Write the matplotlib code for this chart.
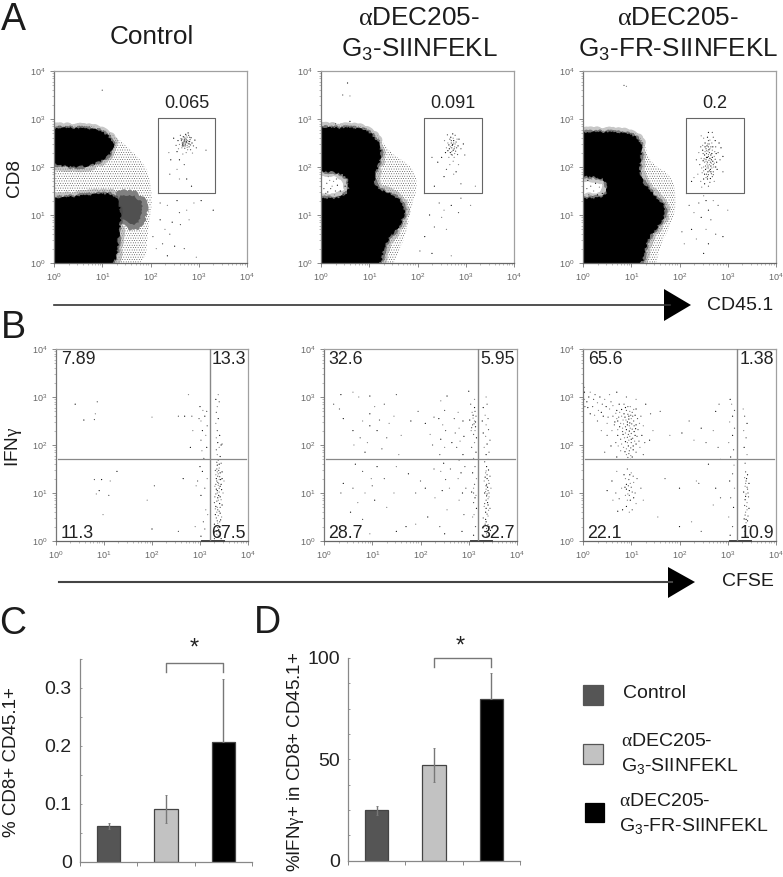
import matplotlib
matplotlib.use('Agg')
import matplotlib.pyplot as plt
from matplotlib.patches import Polygon, Rectangle
from matplotlib.ticker import LogLocator, NullFormatter, MultipleLocator

W, H = 783, 877
plt.rcParams['font.family'] = ['Liberation Sans', 'DejaVu Sans']
plt.rcParams['mathtext.fontset'] = 'custom'
plt.rcParams['mathtext.rm'] = 'Liberation Sans'
plt.rcParams['mathtext.it'] = 'Liberation Serif'
plt.rcParams['mathtext.default'] = 'regular'
plt.rcParams['hatch.linewidth'] = 0.3

# ---------- bar data ----------
groups = ['Control', 'aDEC205-G3-SIINFEKL', 'aDEC205-G3-FR-SIINFEKL']
bar_colors = ['#555555', '#c2c2c2', '#000000']
pct_cd8 = [0.062, 0.091, 0.207]
pct_cd8_low = [0.006, 0.024, 0.0]
pct_cd8_up = [0.004, 0.024, 0.109]
pct_ifn = [24.8, 47.4, 80.0]
pct_ifn_low = [2.5, 8.6, 0.0]
pct_ifn_up = [2.4, 8.4, 12.4]

# ---------- flow gates (log10 decades) ----------
gate_values = ['0.065', '0.091', '0.2']
gate_x = [(2.155, 3.336), (2.135, 3.33), (2.135, 3.34)]
gate_y = (1.458, 3.02)
quad_x = [3.2, 3.19, 3.19]
quad_y = 1.71
quad_text = [('7.89', '13.3', '11.3', '67.5'),
             ('32.6', '5.95', '28.7', '32.7'),
             ('65.6', '1.38', '22.1', '10.9')]

# ---------- dense population outlines (log10 decades) ----------
A1_black_top = [(-.2,2.8),(.46,2.8),(.88,2.77),(1.1,2.66),(1.24,2.5),(1.18,2.29),(.88,2.08),(.53,2.0),(-.2,2.08)]
A1_black_low = [(-.2,1.32),(.46,1.375),(.95,1.43),(1.28,1.42),(1.38,1.05),(1.34,.62),(1.24,-.2),(-.2,-.2)]
A1_dark = [(1.24,1.42),(1.6,1.5),(1.88,1.3),(1.9,1.0),(1.7,.68),(1.38,.85),(1.28,1.1)]
A1_halo = [(-.2,2.86),(.5,2.88),(.95,2.84),(1.3,2.62),(1.7,2.25),(1.95,1.95),(2.05,1.3),(1.95,.75),(1.88,-.2),(-.2,-.2)]
A2_black = [(-.2,2.82),(.4,2.8),(.8,2.8),(1.07,2.67),(1.25,2.39),(1.18,2.01),(1.08,1.81),(1.14,1.53),(1.5,1.42),(1.76,1.15),(1.62,.76),(1.32,.45),(1.2,-.2),(-.2,-.2),(-.2,1.34),(.48,1.34),(.62,1.6),(.5,1.88),(-.2,1.95)]
A2_halo = [(-.2,2.9),(.73,2.9),(1.15,2.72),(1.42,2.3),(1.91,2.0),(2.01,1.6),(1.84,1.05),(1.77,.62),(1.56,.14),(1.45,-.2),(1.1,-.2),(1.1,2.0),(-.2,2.0)]
A3_black = [(-.2,2.71),(.55,2.72),(1.04,2.67),(1.23,2.46),(1.16,2.08),(1.18,1.74),(1.45,1.42),(1.75,1.11),(1.54,.76),(1.31,.49),(1.19,-.2),(-.2,-.2),(-.2,1.34),(.4,1.34),(.54,1.53),(.43,1.81),(-.2,1.81)]
A3_halo = [(-.2,2.76),(1.04,2.76),(1.25,2.57),(1.39,2.08),(1.87,1.81),(1.94,1.18),(1.8,.76),(1.59,.35),(1.49,-.2),(1.1,-.2),(1.1,2.0),(-.2,2.0)]

# ---------- individual events (log10 decades) ----------
A1_dots = [(2.74,2.53),(2.70,2.58),(2.78,2.49),(2.66,2.5),(2.82,2.57),(2.76,2.62),(2.69,2.44),(2.8,2.42),(2.63,2.59),(2.86,2.5),
 (2.72,2.47),(2.75,2.56),(2.68,2.63),(2.79,2.66),(2.6,2.47),(2.84,2.61),(2.71,2.39),(2.77,2.36),(2.57,2.55),(2.89,2.44),
 (2.65,2.4),(2.73,2.68),(2.83,2.36),(2.58,2.38),(2.92,2.56),(2.62,2.66),(2.74,2.3),(2.55,2.32),(2.95,2.4),(2.67,2.27),
 (2.48,2.6),(2.53,2.45),(2.87,2.29),(2.78,2.71),(2.7,2.53),(2.76,2.45),(2.81,2.53),(2.64,2.55),(2.72,2.6),(2.67,2.47),
 (2.73,2.5),(2.77,2.55),(2.71,2.56),(2.75,2.51),(2.79,2.53),(2.69,2.5),(2.74,2.58),(2.68,2.54),(2.8,2.48),(2.72,2.44),(2.76,2.41),(2.66,2.44),(2.83,2.46),(2.7,2.62),(2.65,2.58),(2.81,2.62),(2.74,2.65),
 (2.6,2.15),(2.7,2.05),(2.55,1.95),(2.75,1.75),(2.4,1.85),(2.6,1.75),(2.85,1.6),(3.15,2.35),(2.38,2.3),(2.42,2.15),
 (2.2,1.25),(2.35,1.2),(2.55,1.3),(2.6,1.05),(2.75,1.1),(2.45,.85),(2.62,.8),(2.3,.7),(2.2,.9),(2.4,.6),(2.8,.9),(2.5,.35),(2.25,.4),(2.9,1.25),(3.05,1.3),(2.05,.55),(2.12,.3),(2.35,.15),(2.7,.3),(2.95,.12),(3.3,1.1),(1.0,3.6)]
A2_dots = [(2.73,2.47),(2.7,2.55),(2.77,2.42),(2.66,2.38),(2.8,2.52),(2.74,2.6),(2.68,2.3),(2.79,2.33),(2.63,2.5),(2.84,2.44),
 (2.71,2.4),(2.75,2.5),(2.69,2.62),(2.78,2.66),(2.6,2.4),(2.86,2.58),(2.72,2.25),(2.76,2.2),(2.58,2.3),(2.9,2.38),
 (2.65,2.2),(2.73,2.69),(2.83,2.26),(2.56,2.55),(2.95,2.48),(2.62,2.67),(2.74,2.12),(2.5,2.2),(2.98,2.25),(2.67,2.05),
 (2.72,2.45),(2.76,2.38),(2.68,2.42),(2.74,2.35),(2.7,2.5),(2.78,2.48),(2.65,2.46),(2.81,2.4),(2.71,2.32),(2.75,2.55),(2.67,2.58),(2.82,2.58),(2.63,2.34),(2.7,2.26),(2.77,2.28),
 (2.42,2.1),(2.3,2.2),(2.85,2.05),(2.8,1.9),(2.6,1.95),(2.75,1.85),(2.55,1.8),(2.9,1.65),(3.2,1.6),(2.35,1.6),
 (2.45,1.25),(2.55,1.1),(2.7,1.2),(2.85,1.05),(2.5,.95),(2.25,1.0),(2.35,.75),(2.6,.7),(2.15,.55),(2.9,1.35),(3.1,1.2),(2.3,.2),(2.05,.25),(2.7,.15),
 (.55,3.75),(.45,3.5),(.6,3.48),(.6,2.95),(.3,2.9),
 (.08,1.4),(.14,1.48),(.2,1.55),(.28,1.42),(.34,1.62),(.12,1.66),(.2,1.38),(.4,1.5),(.06,1.55),(.26,1.7),(.46,1.42),(.32,1.75),(.15,1.8),(.5,1.6),(.1,1.45),(.23,1.6),(.38,1.38),(.3,1.5),(.18,1.72)]
A3_dots = [(2.58,2.2),(2.62,2.3),(2.55,2.12),(2.66,2.15),(2.6,2.42),(2.68,2.35),(2.52,2.25),(2.7,2.05),(2.5,2.0),(2.64,1.95),
 (2.56,1.85),(2.72,2.22),(2.48,2.35),(2.6,2.55),(2.67,2.5),(2.53,2.5),(2.75,2.42),(2.45,2.18),(2.58,1.75),(2.68,1.8),
 (2.62,2.05),(2.54,1.95),(2.7,1.9),(2.47,1.88),(2.77,2.1),(2.42,2.05),(2.59,2.33),(2.65,2.25),(2.55,2.38),(2.73,2.32),
 (2.5,1.75),(2.63,1.68),(2.44,1.7),(2.78,1.95),(2.8,2.3),(2.4,2.3),(2.58,2.62),(2.7,2.62),(2.5,2.6),(2.82,2.5),
 (2.61,2.14),(2.57,2.06),(2.65,2.02),(2.6,2.22),(2.52,2.1),(2.69,2.12),(2.56,2.28),(2.63,2.38),(2.59,1.9),(2.66,1.86),
 (2.48,2.45),(2.74,2.55),(2.84,2.15),(2.38,1.85),(2.52,1.65),(2.6,1.6),(2.72,1.7),(2.86,2.4),(2.35,2.15),(2.46,1.58),
 (2.6,2.72),(2.68,2.72),(2.45,2.65),(2.9,2.22),(2.9,1.9),(2.3,1.78),(2.25,1.7),(2.55,2.16),(2.62,2.48),(2.57,2.44),
 (2.64,2.1),(2.6,1.98),(2.67,2.28),(2.54,2.02),(2.71,2.0),(2.49,2.13),(2.58,1.8),(2.53,2.32),(2.76,2.28),(2.44,2.42),
 (2.6,2.26),(2.63,2.18),(2.58,2.1),(2.66,2.08),(2.56,2.2),(2.62,1.92),(2.57,1.98),(2.65,1.9),(2.6,1.84),(2.55,1.78),(2.64,1.76),(2.59,2.02),(2.67,1.98),(2.61,2.36),(2.65,2.42),(2.56,2.34),(2.69,2.42),(2.59,2.48),(2.63,2.56),(2.53,2.42),(2.51,2.17),(2.5,1.92),(2.68,2.2),(2.74,2.16),(2.72,2.08),(2.75,2.0),(2.49,2.28),(2.46,1.98),(2.52,1.85),(2.7,1.84),
 (2.5,1.4),(2.55,1.3),(2.4,1.25),(2.7,1.3),(2.6,1.1),(2.8,1.2),(2.3,1.05),(2.45,.95),(2.65,.9),(2.55,.7),(2.25,.7),(2.75,.6),(2.35,.5),(2.6,.4),(2.2,1.2),(3.0,1.1),(2.9,.55),(2.05,.65),(2.1,.4),(2.5,.2),
 (.85,3.7),(.9,3.68),(.1,1.72),(.16,1.6),(.22,1.5),(.3,1.42),(.12,1.42),(.18,1.75),(.26,1.66),(.08,1.55),(.34,1.58),(.4,1.45),(.2,1.38)]

B1_dots = [(3.38,.1),(3.34,.2),(3.42,.3),(3.3,.35),(3.36,.42),(3.45,.5),(3.32,.55),(3.4,.62),(3.36,.7),(3.46,.75),(3.3,.8),(3.38,.85),(3.42,.92),(3.33,.98),(3.48,1.0),
 (3.36,1.05),(3.4,1.1),(3.31,1.14),(3.44,1.18),(3.37,1.22),(3.5,1.25),(3.34,1.3),(3.41,1.34),(3.38,1.4),(3.46,1.44),(3.32,1.47),(3.4,1.52),(3.36,1.58),(3.44,1.62),(3.38,1.68),
 (3.34,1.08),(3.42,.7),(3.35,.6),(3.39,.95),(3.37,.28),(3.4,.18),(3.44,.05),(3.3,.05),(3.36,1.0),(3.43,1.28),(3.35,1.5),(3.39,1.2),(3.33,.72),(3.41,.4),
 (3.35,.14),(3.39,.24),(3.33,.3),(3.37,.37),(3.43,.44),(3.34,.48),(3.38,.53),(3.42,.58),(3.37,.65),(3.32,.67),(3.41,.78),(3.35,.83),(3.44,.86),(3.37,.9),(3.31,.92),(3.4,1.02),(3.45,1.07),(3.33,1.18),(3.38,1.16),(3.42,1.14),(3.35,1.25),(3.4,1.28),(3.46,1.3),(3.37,1.35),(3.33,1.38),(3.42,1.42),(3.39,1.47),(3.36,1.44),(3.4,1.6),(3.35,1.64),
 (3.36,1.8),(3.42,1.76),(3.34,1.9),(3.4,1.95),(3.37,2.05),(3.46,2.02),(3.34,2.15),(3.41,2.2),(3.36,2.3),(3.33,2.45),(3.38,2.55),(3.34,2.68),(3.36,2.8),(3.33,2.95),(3.4,2.9),(3.38,3.05),(3.44,2.0),
 (3.07,.4),(3.12,.65),(3.02,.95),(3.1,1.1),(3.15,1.3),(3.05,1.45),(2.95,1.25),(2.92,1.15),(3.02,.1),(3.1,.25),(3.16,.55),(3.0,1.55),(3.08,1.72),(3.04,1.88),(3.14,1.95),(3.02,2.1),(3.12,2.2),(3.05,2.3),(3.15,2.4),(3.02,2.5),(3.1,2.6),(2.98,2.55),(3.06,2.72),(3.0,2.8),(3.14,2.7),
 (2.76,3.05),(2.68,2.6),(2.83,2.6),(2.85,2.3),(2.8,1.95),(2.55,2.6),(2.0,2.58),(.4,2.85),(.86,2.9),(.82,2.65),(.58,2.52),(.8,2.53),(.84,.98),(.9,1.05),(1.1,.95),(1.13,1.25),(.95,1.28),(.8,1.28),(.98,.55),(1.27,1.45),(2.05,1.15),(1.9,.85),(2.0,.25),(2.55,.2),(2.9,.3),(2.65,1.3)]
B2_dots = [(3.38,.1),(3.33,.2),(3.43,.3),(3.36,.4),(3.3,.48),(3.4,.52),(3.35,.6),(3.44,.68),(3.32,.72),(3.39,.8),(3.36,.85),(3.42,.92),(3.33,1.0),(3.4,1.05),(3.46,1.1),(3.36,1.15),(3.42,1.2),(3.32,1.25),(3.38,1.3),(3.44,1.35),(3.35,1.42),(3.41,1.48),(3.38,.98),(3.36,1.08),(3.4,.75),(3.34,.35),(3.37,.15),(3.45,.22),
 (3.37,.26),(3.4,.34),(3.35,.45),(3.38,.56),(3.41,.64),(3.36,.68),(3.33,.78),(3.4,.88),(3.37,.94),(3.42,1.0),(3.35,1.03),(3.39,1.12),(3.37,1.18),(3.41,1.26),(3.34,1.33),(3.38,1.38),(3.36,1.46),
 (3.37,1.55),(3.33,1.65),(3.4,1.7),(3.36,1.8),(3.42,1.85),(3.32,1.95),(3.38,2.02),(3.44,2.1),(3.35,2.18),(3.3,2.25),(3.41,2.32),(3.36,2.42),(3.28,2.5),(3.4,2.55),(3.34,2.62),(3.3,2.78),(3.38,2.85),(3.36,3.0),
 (3.1,.12),(3.14,.3),(3.08,.5),(3.16,.68),(3.1,.8),(3.15,.95),(3.06,1.02),(3.12,1.18),(3.16,1.3),(3.08,1.42),(3.13,1.55),(3.1,1.72),(3.15,1.85),(3.06,1.95),(3.12,2.05),(3.16,2.15),(3.1,2.22),(3.05,2.3),(3.14,2.38),(3.08,2.42),(3.12,2.5),(3.02,2.52),(3.15,2.6),(3.07,2.68),(3.12,2.78),(3.04,2.85),(3.12,2.95),(3.0,3.12),
 (3.11,2.44),(3.09,2.56),(3.14,2.48),(3.06,2.36),(3.13,2.3),(3.09,2.62),(3.13,2.7),(3.1,1.1),(3.13,.9),(3.1,1.0),(3.11,.55),
 (2.86,.2),(2.9,.55),(2.8,.85),(2.87,1.0),(2.94,1.1),(2.78,1.3),(2.84,1.42),(2.92,1.55),(2.8,1.68),(2.88,1.8),(2.75,1.95),(2.82,2.08),(2.9,2.18),(2.72,2.25),(2.8,2.35),(2.88,2.5),(2.7,2.55),(2.78,2.68),(2.65,2.05),(2.62,1.5),(2.6,1.1),
 (2.5,.15),(2.4,.3),(2.55,.65),(2.45,1.05),(2.52,1.28),(2.42,1.45),(2.48,1.62),(2.4,1.8),(2.5,1.95),(2.42,2.12),(2.52,2.3),(2.46,2.42),(2.38,2.55),(2.5,2.72),(2.42,2.92),(2.55,3.02),(2.25,2.0),(2.2,2.22),(2.1,2.45),(2.28,2.58),(2.3,.9),(2.1,1.1),(2.0,1.25),(1.9,.35),(2.15,.5),(2.28,1.5),
 (.6,3.1),(.35,3.05),(.2,2.85),(.72,3.0),(.95,3.02),(1.5,3.05),(1.05,2.8),(.95,2.65),(1.25,2.85),(1.45,2.6),(.4,2.55),(.32,2.75),(.8,2.5),(.95,2.4),(1.15,2.52),(1.35,2.45),(.6,2.3),(.75,2.15),(.9,2.05),(1.1,2.3),(1.3,2.15),(1.6,2.2),(1.8,2.5),(1.95,2.7),(.62,2.0),(.85,1.85),(1.2,1.92),(1.55,1.8),(.65,1.6),(.8,1.45),(.98,1.3),(1.1,1.55),(1.25,1.3),(1.5,1.55),(.4,1.2),(.6,1.1),(.85,1.0),(1.05,.85),(1.0,1.15),(.7,.8),(.55,.6),(.8,.45),(1.45,1.0),(1.75,1.4),(1.9,1.0),(1.3,.7),(1.7,.3),(.35,1.0),(.95,.15),(1.5,.2)]
B3_dots = [(.95,2.6),(.9,2.72),(1.0,2.55),(.85,2.65),(1.05,2.5),(.8,2.6),(.92,2.48),(1.02,2.68),(.78,2.45),(1.1,2.42),(.88,2.38),(.98,2.35),(1.06,2.28),(.94,2.22),(.86,2.15),(1.0,2.12),(1.12,2.18),(.92,2.05),(1.04,1.98),(.96,1.88),(.9,1.8),(1.02,1.75),(1.1,1.85),(.84,1.95),(.98,1.7),
 (.93,2.64),(.97,2.7),(.87,2.58),(.99,2.62),(.83,2.52),(.95,2.54),(1.03,2.6),(.89,2.52),(.97,2.46),(1.01,2.44),(.84,2.44),(.92,2.42),(1.06,2.4),(.96,2.4),(.9,2.32),(1.02,2.33),(.82,2.35),(.96,2.29),(1.0,2.24),(.88,2.25),(1.08,2.2),(.92,2.16),(.97,2.18),(.83,2.22),(1.03,2.14),(.95,2.1),(.88,2.07),(1.0,2.05),(1.07,2.08),(.94,1.98),(.99,1.94),(.9,1.92),(1.04,1.9),(.95,1.82),(.99,1.78),(.87,1.86),(.93,1.74),
 (.76,2.68),(.8,2.74),(.74,2.58),(.68,2.66),(.88,2.78),(.93,2.8),(1.05,2.74),(1.08,2.62),(1.13,2.55),(.7,2.55),(.76,2.38),(.82,2.28),(.72,2.32),(.66,2.48),(1.14,2.32),(1.17,2.45),(1.09,2.34),(.78,2.12),(.8,2.02),(1.1,2.02),(1.16,2.08),(.73,1.98),
 (.7,2.72),(.62,2.6),(.55,2.75),(.72,2.5),(.65,2.42),(.6,2.3),(.75,2.85),(.85,2.85),(.98,2.8),(1.1,2.75),(1.2,2.6),(1.25,2.4),(1.22,2.2),(1.28,2.05),(1.18,1.95),(.72,2.2),(.68,2.05),(.78,1.88),(.7,1.75),(1.25,1.8),
 (.45,2.95),(.35,3.0),(.25,3.05),(.15,3.1),(.08,2.9),(.2,2.8),(.32,2.72),(.42,2.6),(.3,2.5),(.5,2.45),(.15,2.65),(.4,2.85),(.55,3.05),(.7,3.1),(.9,3.0),(1.1,2.95),(1.3,2.85),(1.4,2.65),(1.45,2.3),(1.38,2.1),(.5,2.2),(.38,2.3),(.58,1.98),(.45,1.85),(.03,2.95),(.03,3.1),(.04,2.8),(.03,3.2),
 (.12,3.0),(.22,2.95),(.3,2.88),(.48,2.8),(.58,2.9),(.62,2.82),(.38,2.68),(.52,2.58),(.24,2.62),(.1,2.78),
 (.92,1.5),(1.0,1.42),(.85,1.38),(.95,1.28),(1.05,1.22),(.9,1.18),(1.0,1.12),(.8,1.1),(.96,1.05),(1.08,1.0),(.88,.95),(.98,.85),(.75,.88),(1.1,.78),(.9,.72),(.68,1.0),(.62,.85),(.82,.65),(1.02,.65),(.96,.6),(.72,.62),(1.12,1.3),(.7,1.45),(.6,1.25),(1.2,1.1),(1.25,.85),(.5,1.05),
 (.94,1.15),(.98,1.2),(.9,1.08),(1.02,1.02),(.93,.98),(.87,1.12),(1.04,1.35),(.88,1.3),(.97,1.38),(.96,.95),(.92,.85),(1.05,.9),
 (1.6,2.7),(1.8,2.2),(2.05,2.25),(2.2,2.5),(2.3,2.1),(2.45,2.35),(2.55,2.05),(2.7,2.3),(2.75,2.7),(2.8,1.95),(2.85,1.7),(2.6,1.6),(2.4,1.2),(2.35,1.25),(2.75,1.1),(2.85,.9),(2.7,.75),(2.0,1.1),(1.7,1.3),(1.55,.5),(2.0,.3),(2.45,.2),(2.25,.4),
 (3.05,.12),(3.1,.3),(3.02,.5),(3.12,.7),(3.06,.9),(3.14,1.1),(3.04,1.25),(3.1,1.4),(3.13,1.58),(3.06,1.75),(3.12,1.9),(3.02,2.05),(3.1,2.2),(3.14,2.35),(3.04,2.48),(3.1,2.6),(3.14,2.72),(3.08,2.85),(3.05,2.95),(2.82,2.85),
 (3.4,.1),(3.36,.2),(3.44,.3),(3.38,.38),(3.34,.46),(3.42,.52),(3.37,.6),(3.44,.68),(3.35,.74),(3.4,.8),(3.36,.86),(3.43,.92),(3.38,.98),(3.33,1.02),(3.41,1.08),(3.36,1.14),(3.44,1.2),(3.38,1.25),(3.35,1.32),(3.41,1.38),(3.37,1.44),(3.4,.65),(3.38,.45),(3.42,1.0),
 (3.37,.25),(3.41,.42),(3.36,.54),(3.39,.72),(3.37,.93),(3.4,1.12),(3.37,1.2),(3.39,1.3),
 (3.36,1.62),(3.4,1.8),(3.34,1.95),(3.38,2.15),(3.33,2.3),(3.4,2.45),(3.35,2.6),(3.32,2.75)]

def px_axes(fig, l, t, r, b):
    return fig.add_axes([l / W, 1 - b / H, (r - l) / W, (b - t) / H])

def flow_axes(fig, box):
    ax = px_axes(fig, *box)
    ax.set_xscale('log'); ax.set_yscale('log')
    ax.set_xlim(1, 1e4); ax.set_ylim(1, 1e4)
    for axis in (ax.xaxis, ax.yaxis):
        axis.set_major_locator(LogLocator(base=10, numticks=6))
        axis.set_minor_locator(LogLocator(base=10, subs=range(2, 10), numticks=6))
        axis.set_minor_formatter(NullFormatter())
    ax.tick_params(which='major', length=3, width=.6, color='#777777', labelsize=6.5, labelcolor='#666666', pad=3)
    ax.tick_params(which='minor', length=1.5, width=.4, color='#888888')
    for s in ax.spines.values():
        s.set_color('#a0a0a0'); s.set_linewidth(.9)
    ax.spines['left'].set_color('#777777'); ax.spines['bottom'].set_color('#666666')
    return ax

def logged(points):
    return [(10 ** x, 10 ** y) for x, y in points]

def rounded(points, passes=2):
    pts = list(points)
    for _ in range(passes):
        out = []
        for k, (x0, y0) in enumerate(pts):
            x1, y1 = pts[(k + 1) % len(pts)]
            out += [(.75 * x0 + .25 * x1, .75 * y0 + .25 * y1), (.25 * x0 + .75 * x1, .25 * y0 + .75 * y1)]
        pts = out
    return pts

def dots(ax, points, s=.8):
    p = logged(points)
    shades = ['#111111', '#555555', '#888888']
    ax.scatter([a for a, _ in p], [b for _, b in p], s=s,
               c=[shades[k % 3] for k in range(len(p))], linewidths=0, zorder=3)

def stipple(ax, outline):
    ax.add_patch(Polygon(logged(rounded(outline)), closed=True, facecolor='none', edgecolor='#444444',
                         hatch='.......', linewidth=0, zorder=1))

def solid(ax, outline):
    pts = logged(rounded(outline))
    glow = Polygon(pts, closed=True, facecolor='none', edgecolor='#9a9a9a', linewidth=7, alpha=.55, zorder=1.5, joinstyle='round')
    glow.set_sketch_params(scale=1.5, length=6, randomness=8)
    ax.add_patch(glow)
    soft = Polygon(pts, closed=True, facecolor='none', edgecolor='#444444', linewidth=3, alpha=.6, zorder=1.8, joinstyle='round')
    soft.set_sketch_params(scale=1.2, length=5, randomness=8)
    ax.add_patch(soft)
    core = Polygon(pts, closed=True, facecolor='black', edgecolor='black', linewidth=.8, zorder=2, joinstyle='round')
    core.set_sketch_params(scale=1.0, length=4, randomness=8)
    ax.add_patch(core)

fig = plt.figure(figsize=(W / 100, H / 100), dpi=100)

# ---------- panel A ----------
a_boxes = [(54, 71, 247, 263), (321, 71, 514, 263), (583, 71, 776, 263)]
a_solid = [[A1_black_top, A1_black_low], [A2_black], [A3_black]]
a_halo = [A1_halo, A2_halo, A3_halo]
a_dots = [A1_dots, A2_dots, A3_dots]
for i, box in enumerate(a_boxes):
    ax = flow_axes(fig, box)
    stipple(ax, a_halo[i])
    if i == 0:
        dark = Polygon(logged(rounded(A1_dark)), closed=True, facecolor='#505050', edgecolor='#808080',
                       linewidth=3, zorder=1.6, joinstyle='round')
        dark.set_sketch_params(scale=1.5, length=5, randomness=8)
        ax.add_patch(dark)
    for o in a_solid[i]:
        solid(ax, o)
    ax.axvspan(1, 10 ** .03, color='white', lw=0, zorder=2.5)
    dots(ax, a_dots[i])
    (x0, x1), (y0, y1) = gate_x[i], gate_y
    ax.plot([10**x0, 10**x1, 10**x1, 10**x0, 10**x0], [10**y0, 10**y0, 10**y1, 10**y1, 10**y0], color='#666666', lw=.8, zorder=4)
    ax.text(10 ** ((x0 + x1) / 2), 10 ** (y1 + .13), gate_values[i], ha='center', va='bottom', fontsize=13, color='#222222')

# ---------- panel B ----------
b_boxes = [(56, 349, 248, 541), (324, 349, 517, 541), (583, 349, 776, 541)]
b_dots = [B1_dots, B2_dots, B3_dots]
for i, box in enumerate(b_boxes):
    ax = flow_axes(fig, box)
    dots(ax, b_dots[i])
    ax.plot([10 ** quad_x[i]] * 2, [1, 1e4], color='#888888', lw=1, zorder=4)
    ax.plot([1.08, 9200], [10 ** quad_y] * 2, color='#888888', lw=.9, zorder=4)
    ax.plot([10 ** (quad_x[i] - .15), 10 ** (quad_x[i] + .3)], [1.01, 1.01], color='#444444', lw=1.4, zorder=3, clip_on=False)
    ul, ur, ll, lr = quad_text[i]
    kw = dict(fontsize=12.8, color='#222222', zorder=5)
    ax.text(1.25, 10 ** 3.78, ul, va='center', ha='left', **kw)
    ax.text(10 ** 3.96, 10 ** 3.78, ur, va='center', ha='right', **kw)
    ax.text(1.22, 10 ** .15, ll, va='center', ha='left', **kw)
    ax.text(10 ** 3.96, 10 ** .15, lr, va='center', ha='right', **kw)

# ---------- bars ----------
def bar_axes(box, vals, low, up, ymax, major, minor, fmt, bracket, star):
    ax = px_axes(fig, *box)
    x = [.5, 1.5, 2.5]
    ax.bar(x, vals, width=.41, color=bar_colors, edgecolor='#444444', linewidth=.9, zorder=2)
    ax.errorbar(x, vals, yerr=[low, up], fmt='none', ecolor='#777777', elinewidth=1, capsize=.8, capthick=.6, zorder=3)
    ax.set_xlim(0, 3); ax.set_ylim(0, ymax)
    ax.set_xticks([0, 1, 2, 3]); ax.set_xticklabels([])
    ax.yaxis.set_major_locator(MultipleLocator(major))
    ax.yaxis.set_minor_locator(MultipleLocator(minor))
    ax.yaxis.set_major_formatter(fmt)
    ax.tick_params(axis='x', length=3, width=.7, color='#888888')
    ax.tick_params(axis='y', which='both', length=1.5, width=.6, color='#888888', direction='in', labelsize=14, labelcolor='#222222', pad=6)
    for s in ('top', 'right'):
        ax.spines[s].set_visible(False)
    for s in ('left', 'bottom'):
        ax.spines[s].set_color('#888888'); ax.spines[s].set_linewidth(.9)
    top, drop = bracket
    ax.plot([1.5, 1.5, 2.5, 2.5], [drop, top, top, drop], color='#777777', lw=1, clip_on=False)
    ax.text(star[0], star[1], '*', ha='center', va='center', fontsize=17, color='#222222', clip_on=False)
    return ax

bar_axes((80, 659, 252, 861.7), pct_cd8, pct_cd8_low, pct_cd8_up, .35, .1, .05,
         lambda v, _: '0' if v == 0 else f'{v:.1f}', (.3426, .327), (2.0, .368))
bar_axes((348, 658, 520, 860.7), pct_ifn, pct_ifn_low, pct_ifn_up, 100, 50, 12.5,
         lambda v, _: f'{v:.0f}', (100, 95.5), (1.96, 105.5))

# ---------- overlay: labels, arrows, legend (pixel coordinates) ----------
ov = fig.add_axes([0, 0, 1, 1], facecolor='none')
ov.set_xlim(0, W); ov.set_ylim(H, 0); ov.axis('off')
tc = '#1c1c1c'
def T(x, y, s, size, ha='center', va='center', rot=0):
    ov.text(x, y, s, fontsize=size, ha=ha, va=va, rotation=rot, color=tc)

for x, y, s in [(13, 20, 'A'), (13, 328, 'B'), (13, 624, 'C'), (267, 623, 'D')]:
    T(x, y, s, 27)
T(152, 37, 'Control', 18.8)
T(419, 18, r'$\mathit{\alpha}$DEC205-', 18.8)
T(419, 50, r'G$_{3}$-SIINFEKL', 18.8)
T(678, 18, r'$\mathit{\alpha}$DEC205-', 18.8)
T(678, 50, r'G$_{3}$-FR-SIINFEKL', 18.8)
T(15, 178, 'CD8', 13.7, rot=90)
T(13, 447, r'IFN$\mathit{\gamma}$', 13.7, rot=90)
T(12, 762, '% CD8+ CD45.1+', 13.5, rot=90)
T(295, 762, r'%IFN$\mathit{\gamma}$+ in CD8+ CD45.1+', 13.5, rot=90)
T(740, 305, 'CD45.1', 14)
T(748, 582, 'CFSE', 14)

ov.plot([54, 670], [305, 305], color='#333333', lw=1.2)
ov.add_patch(Polygon([(664, 289), (691, 305), (664, 321)], closed=True, facecolor='black', edgecolor='none'))
ov.plot([59, 672], [582, 582], color='#444444', lw=1.5)
ov.add_patch(Polygon([(668, 567), (695, 582), (668, 598)], closed=True, facecolor='black', edgecolor='none'))

legend_boxes = [(583, 685, 20), (583, 744, 20), (585, 803, 19)]
for (x, y, w), c in zip(legend_boxes, bar_colors):
    ov.add_patch(Rectangle((x, y), w, w, facecolor=c, edgecolor='#555555' if c != '#000000' else 'black', lw=.9))
T(623, 694, 'Control', 14, ha='left')
T(621, 742, r'$\mathit{\alpha}$DEC205-', 14, ha='left')
T(621, 766, r'G$_{3}$-SIINFEKL', 14, ha='left')
T(619, 802, r'$\mathit{\alpha}$DEC205-', 14, ha='left')
T(619, 826, r'G$_{3}$-FR-SIINFEKL', 14, ha='left')

fig.savefig('out.png', dpi=100)
